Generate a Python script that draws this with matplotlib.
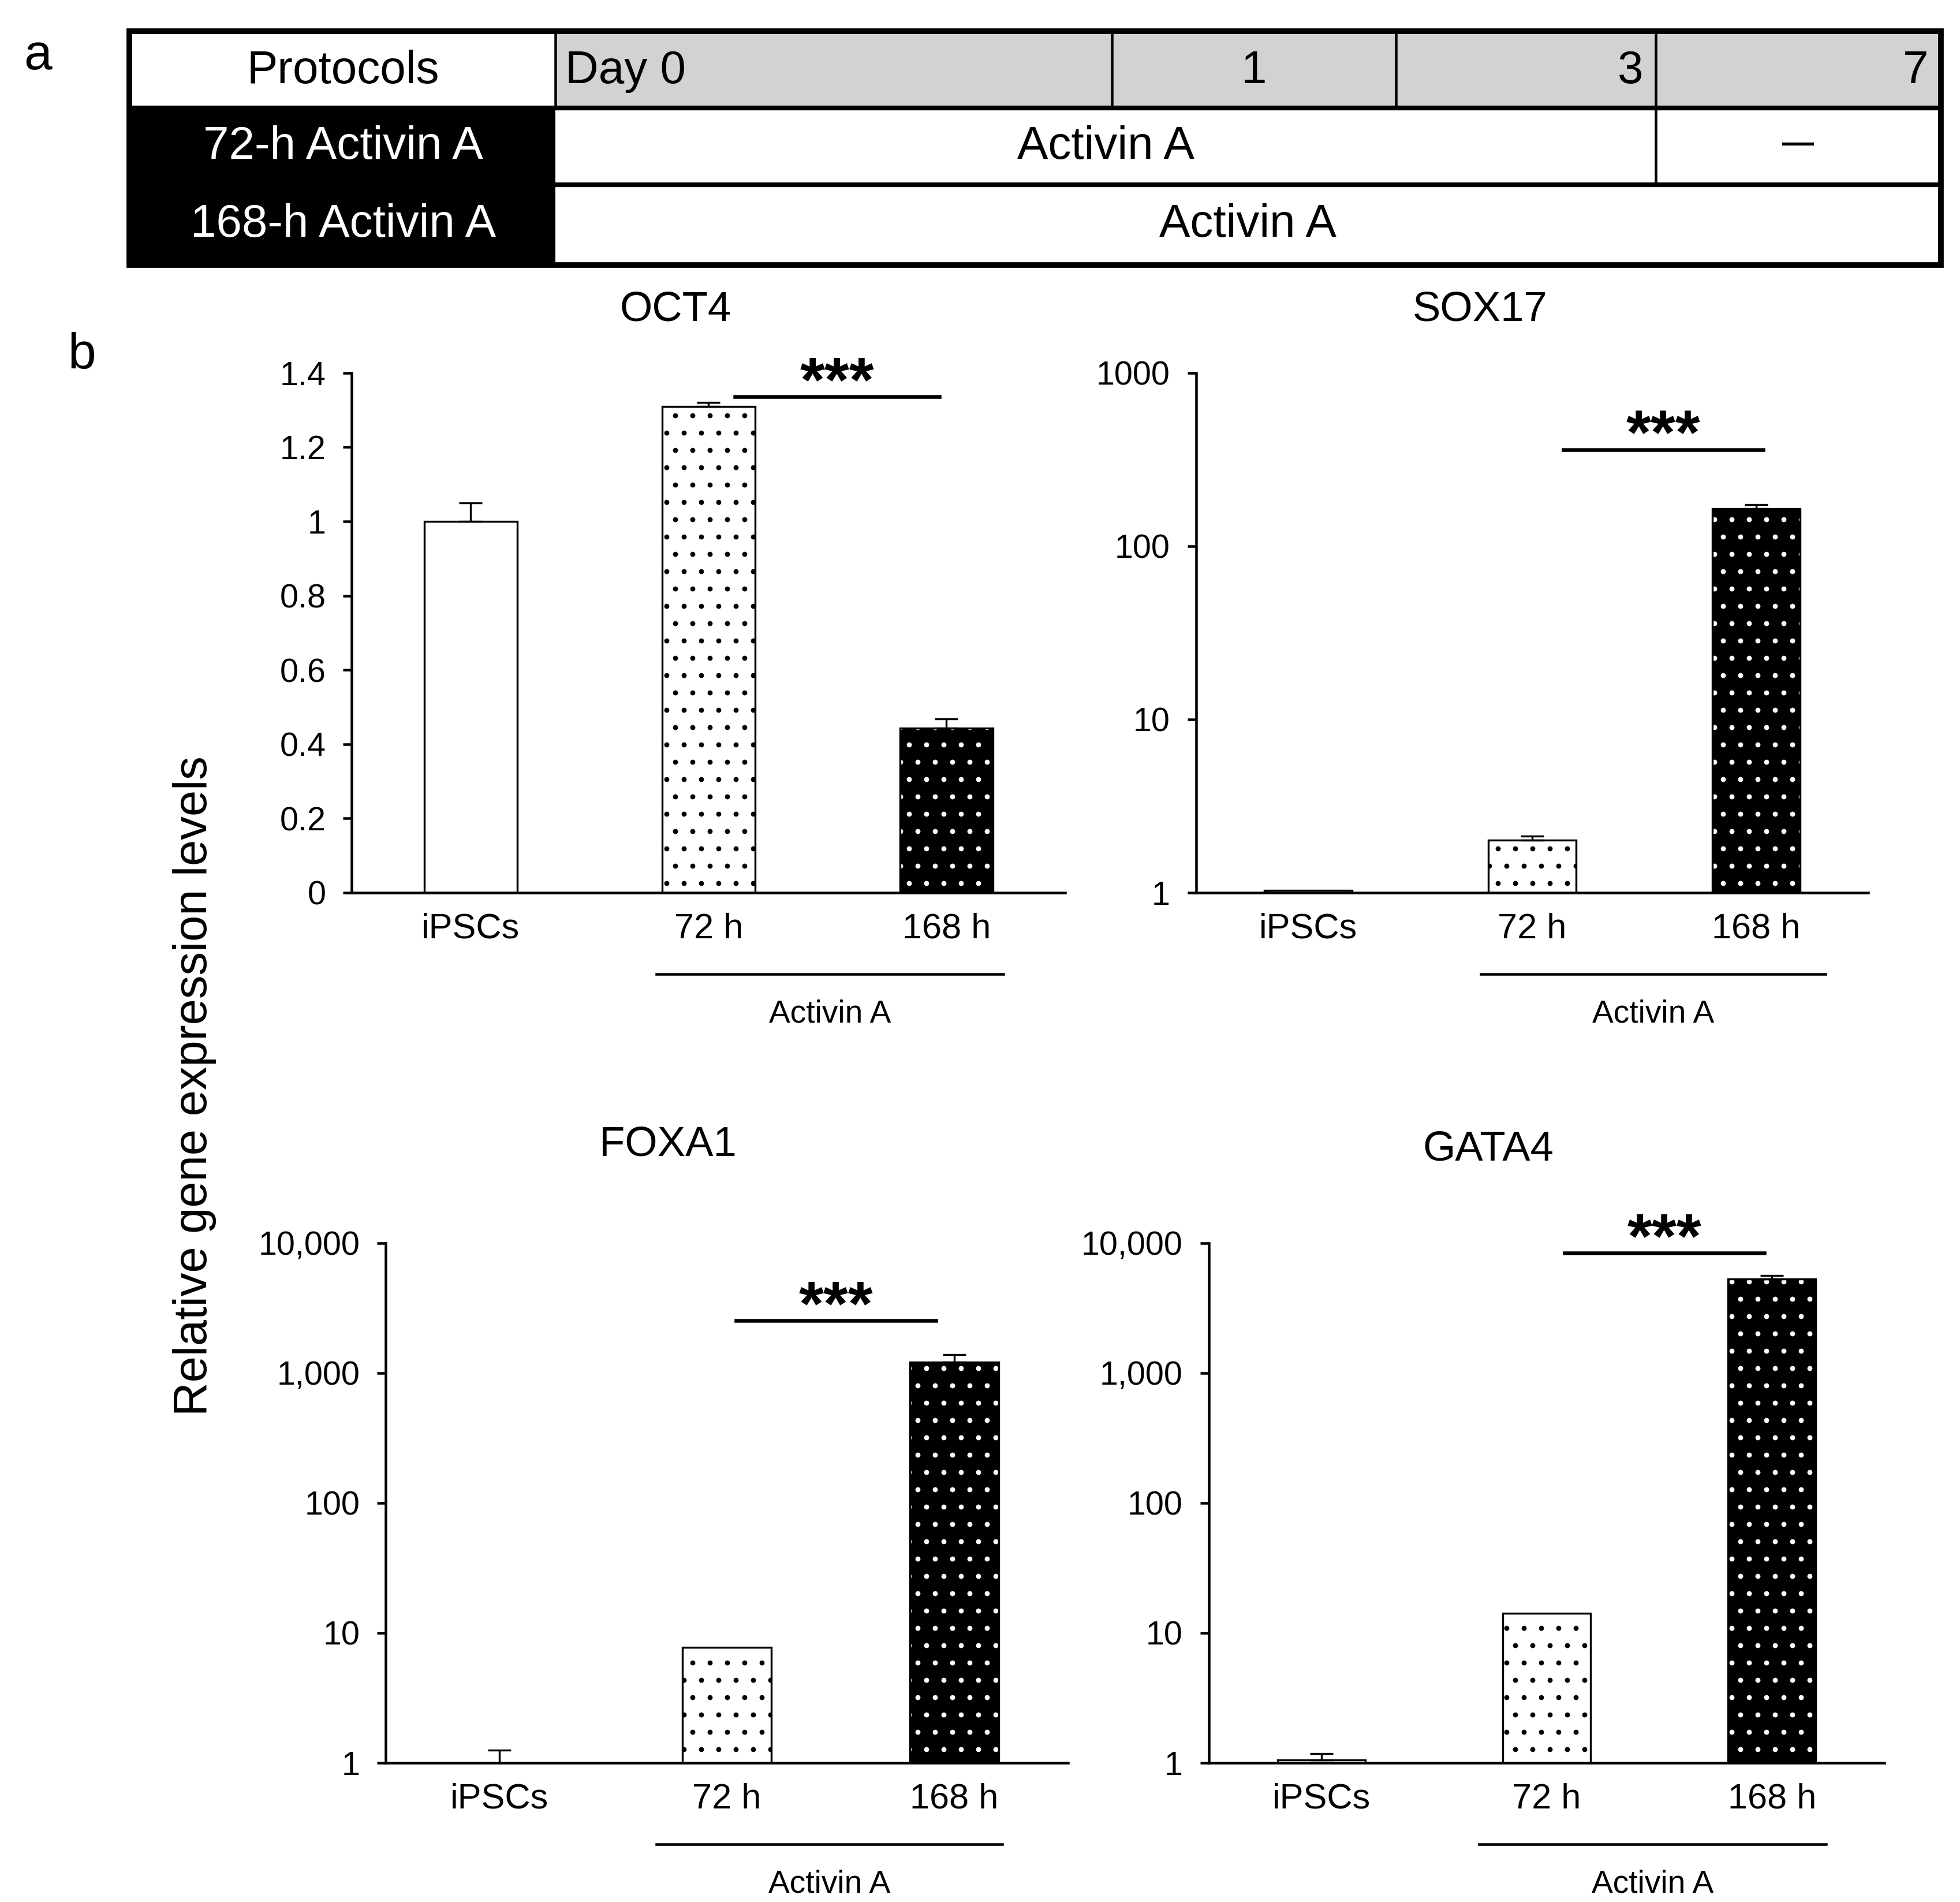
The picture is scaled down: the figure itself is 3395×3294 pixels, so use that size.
import matplotlib
matplotlib.use('Agg')
import matplotlib.pyplot as plt
from matplotlib.patches import Rectangle
from matplotlib.ticker import FixedLocator, NullLocator
import numpy as np

plt.rcParams['font.family'] = ['Liberation Sans', 'DejaVu Sans']
plt.rcParams['hatch.linewidth'] = 1.1

# ---- data ----
groups = ['iPSCs', '72 h', '168 h']

oct4_mean = [1.0, 1.31, 0.443]
oct4_err = [0.05, 0.01, 0.025]
sox17_mean = [1.03, 2.01, 165]
sox17_err = [0.0, 0.11, 8]
foxa1_mean = [1.0, 7.7, 1210]
foxa1_err = [0.25, 0.0, 170]
gata4_mean = [1.05, 14.1, 5250]
gata4_err = [0.12, 0.0, 350]

lin_ticks = [0, 0.2, 0.4, 0.6, 0.8, 1.0, 1.2, 1.4]
lin_ticklabels = ['0', '0.2', '0.4', '0.6', '0.8', '1', '1.2', '1.4']
log3_ticks = [1, 10, 100, 1000]
log3_ticklabels = ['1', '10', '100', '1000']
log4_ticks = [1, 10, 100, 1000, 10000]
log4_ticklabels = ['1', '10', '100', '1,000', '10,000']

# protocol table
table_days = ['Day 0', '1', '3', '7']
protocols = ['72-h Activin A', '168-h Activin A']
treatments = [['Activin A', '\u2014'], ['Activin A']]

# ---- layout helpers (positions measured on a 1560 x 1515 grid) ----
W, H = 1560.0, 1515.0
DPI = 180  # hatch dot spacing follows the dpi


def fbox(left, top, right, bottom):
    return [left / W, 1 - bottom / H, (right - left) / W, (bottom - top) / H]


fig = plt.figure(figsize=(3395 / DPI, 3294 / DPI), dpi=DPI)

# ---- panel a: protocol table ----
tax = fig.add_axes(fbox(103, 25, 1545, 211))
tax.set_xlim(103, 1545)
tax.set_ylim(211, 25)
tax.axis('off')

tax.add_patch(Rectangle((103, 25), 339, 61, facecolor='white', edgecolor='none'))
tax.add_patch(Rectangle((442, 25), 1103, 61, facecolor='#d3d2d0', edgecolor='none'))
tax.add_patch(Rectangle((103, 86), 339, 125, facecolor='black', edgecolor='none'))
tax.add_patch(Rectangle((442, 86), 1103, 125, facecolor='white', edgecolor='none'))

for xv in [442, 885, 1111, 1318]:
    tax.plot([xv, xv], [25, 86], color='black', lw=1.8)
tax.plot([1318, 1318], [86, 147], color='black', lw=1.8)
tax.plot([103, 1545], [86, 86], color='black', lw=3.3)
tax.plot([103, 1545], [147, 147], color='black', lw=3.3)
tax.add_patch(Rectangle((103, 25), 1442, 186, facecolor='none', edgecolor='black',
                        lw=3.9, clip_on=False))

tfs = 32
tax.text(273, 57, 'Protocols', ha='center', va='center', fontsize=tfs)
day_x = [450, 998, 1308, 1535]
day_ha = ['left', 'center', 'right', 'right']
for lab, xv, ha in zip(table_days, day_x, day_ha):
    tax.text(xv, 57, lab, ha=ha, va='center', fontsize=tfs)

row_y = [117, 179]
for lab, yv in zip(protocols, row_y):
    tax.text(273, yv, lab, ha='center', va='center', fontsize=tfs, color='white')
tax.text(880, row_y[0], treatments[0][0], ha='center', va='center', fontsize=tfs)
tax.text(1431, row_y[0] - 2, treatments[0][1], ha='center', va='center', fontsize=22,
         fontweight='bold')
tax.text(993, row_y[1], treatments[1][0], ha='center', va='center', fontsize=tfs)

fig.text(30 / W, 1 - 45 / H, 'a', ha='center', va='center', fontsize=35)
fig.text(65 / W, 1 - 283 / H, 'b', ha='center', va='center', fontsize=35)
fig.text(155 / W, 1 - 865 / H, 'Relative gene expression levels', rotation=90,
         ha='center', va='center', fontsize=32.5)

# ---- panel b: bar charts ----
panels = [
    dict(gene='OCT4', mean=oct4_mean, err=oct4_err, log=False, ylim=(0, 1.4),
         ticks=lin_ticks, labels=lin_ticklabels, box=(280, 297, 848, 711),
         title_xy=(0.454, 1.121), sig=(1.11, 1.97, 1.336), bracket=(0.78, 2.24)),
    dict(gene='SOX17', mean=sox17_mean, err=sox17_err, log=True, ylim=(1, 1000),
         ticks=log3_ticks, labels=log3_ticklabels, box=(952, 297, 1487, 711),
         title_xy=(0.422, 1.121), sig=(1.14, 2.03, 361), bracket=(0.77, 2.31)),
    dict(gene='FOXA1', mean=foxa1_mean, err=foxa1_err, log=True, ylim=(1, 10000),
         ticks=log4_ticks, labels=log4_ticklabels, box=(307, 990, 850, 1404),
         title_xy=(0.414, 1.188), sig=(1.04, 1.92, 2520), bracket=(0.69, 2.21)),
    dict(gene='GATA4', mean=gata4_mean, err=gata4_err, log=True, ylim=(1, 10000),
         ticks=log4_ticks, labels=log4_ticklabels, box=(962, 990, 1500, 1404),
         title_xy=(0.414, 1.179), sig=(1.08, 1.965, 8370), bracket=(0.70, 2.24)),
]

fills = ['white', 'white', 'black']
dots = [None, 'black', 'white']
bw = 0.39
x = np.arange(len(groups))

for p in panels:
    ax = fig.add_axes(fbox(*p['box']))
    if p['log']:
        ax.set_yscale('log')
    for i in range(len(groups)):
        if dots[i]:
            ax.bar(x[i], p['mean'][i], width=bw, color=fills[i], edgecolor=dots[i],
                   hatch='.', linewidth=0, zorder=2)
        else:
            ax.bar(x[i], p['mean'][i], width=bw, color=fills[i], linewidth=0, zorder=2)
        ax.bar(x[i], p['mean'][i], width=bw, facecolor='none', edgecolor='black',
               linewidth=1.35, zorder=3)
        if p['err'][i] > 0:
            ax.errorbar(x[i], p['mean'][i], yerr=[[0], [p['err'][i]]], fmt='none',
                        ecolor='black', elinewidth=1.35, capsize=8, capthick=1.35, zorder=4)

    ax.set_xlim(-0.5, 2.5)
    ax.set_ylim(*p['ylim'])
    ax.yaxis.set_major_locator(FixedLocator(p['ticks']))
    ax.yaxis.set_minor_locator(NullLocator())
    ax.set_yticklabels(p['labels'])
    ax.set_xticks(x)
    ax.set_xticklabels(groups)
    ax.tick_params(axis='y', direction='out', length=6, width=1.8, pad=12, labelsize=23)
    ax.tick_params(axis='x', length=0, pad=14, labelsize=24.5)
    for s in ['top', 'right']:
        ax.spines[s].set_visible(False)
    for s in ['left', 'bottom']:
        ax.spines[s].set_linewidth(1.8)

    ax.text(p['title_xy'][0], p['title_xy'][1], p['gene'], transform=ax.transAxes,
            ha='center', va='center', fontsize=29)

    x0, x1, ys = p['sig']
    ax.plot([x0, x1], [ys, ys], color='black', lw=2.6, clip_on=False, zorder=5)
    ax.annotate('***', xy=((x0 + x1) / 2, ys), xytext=(0, -12), textcoords='offset points',
                ha='center', va='bottom', fontsize=44, fontweight='bold', annotation_clip=False)

    trans = ax.get_xaxis_transform()
    b0, b1 = p['bracket']
    ax.plot([b0, b1], [-0.157, -0.157], color='black', lw=1.8, transform=trans, clip_on=False)
    ax.text((b0 + b1) / 2, -0.234, 'Activin A', transform=trans, ha='center', va='center',
            fontsize=22)

fig.savefig('out.png', dpi=DPI)
